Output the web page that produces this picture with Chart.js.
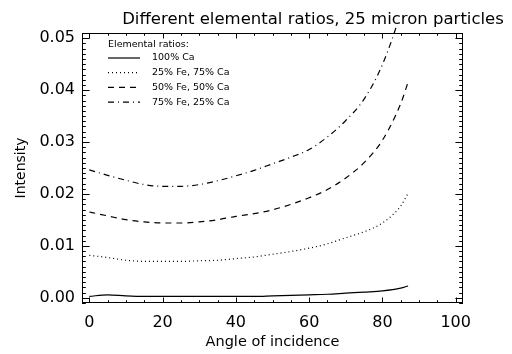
<!DOCTYPE html>
<html>
<head>
<meta charset="utf-8">
<script src="https://cdn.jsdelivr.net/npm/chart.js@4/dist/chart.umd.min.js"></script>
<style>
  html, body { margin: 0; padding: 0; background: #fff; }
  #wrap { width: 512px; height: 354px; }
</style>
</head>
<body>
<div id="wrap"><canvas id="chart" width="512" height="354"></canvas></div>
<script>
const titleText = 'Different elemental ratios, 25 micron particles';
const legendTitle = 'Elemental ratios:';
const seriesNames = ['100% Ca', '25% Fe, 75% Ca', '50% Fe, 50% Ca', '75% Fe, 25% Ca'];

const angles = [0, 5, 10, 15, 20, 25, 30, 35, 40, 45, 50, 55, 60, 65, 70, 75, 80, 85, 87];
const ca100 = [0.00027, 0.00058, 0.00037, 0.00027, 0.00027, 0.00027, 0.00027, 0.00027, 0.00027, 0.00027,
               0.00037, 0.00048, 0.00058, 0.00069, 0.0009, 0.0011, 0.00132, 0.00185, 0.00227];
const fe25 = [0.00818, 0.00776, 0.00723, 0.00702, 0.00702, 0.00702, 0.00713, 0.00723, 0.00755, 0.00787,
              0.00839, 0.00892, 0.00956, 0.0104, 0.01156, 0.01272, 0.01441, 0.01768, 0.02011];
const fe50 = [0.01652, 0.01578, 0.01504, 0.01462, 0.01441, 0.01441, 0.01462, 0.01504, 0.01568, 0.0162,
              0.01694, 0.018, 0.01927, 0.02085, 0.02307, 0.02602, 0.03035, 0.0374, 0.0415];
const fe75 = [0.02465, 0.02359, 0.02264, 0.0218, 0.02148, 0.02148, 0.0218, 0.02254, 0.02349, 0.02454,
              0.02581, 0.02708, 0.02855, 0.03098, 0.03415, 0.03826, 0.04491, 0.05494, 0.06022];

const xTicks = [0, 20, 40, 60, 80, 100];
const yTicks = [0.00, 0.01, 0.02, 0.03, 0.04, 0.05];

const dashes = [[], [1, 3], [6, 5], [6, 4, 1, 4]];
const allSeries = [ca100, fe25, fe50, fe75];

const font = "'DejaVu Sans', sans-serif";

const toPoints = (vals) => vals.map((v, i) => ({ x: angles[i], y: v }));

const datasets = allSeries.map((vals, i) => ({
    label: seriesNames[i],
    data: toPoints(vals),
    borderColor: '#000',
    borderWidth: 1.2,
    borderDash: dashes[i],
    pointRadius: 0,
    fill: false,
    cubicInterpolationMode: 'monotone',
    clip: { left: 0, top: 6, right: 0, bottom: 0 },
}));

// IDL style box with inward ticks, title and in-plot legend
const idlDecor = {
    id: 'idlDecor',
    afterDatasetsDraw(chart) {
        const { ctx, chartArea: a, scales } = chart;
        const xs = scales.x, ys = scales.y;
        ctx.save();
        ctx.strokeStyle = '#000';
        ctx.lineWidth = 1;
        ctx.strokeRect(a.left + 0.5, a.top + 0.5, a.right - a.left - 1, a.bottom - a.top - 1);

        const xMajor = 5.5, xMinor = 2.8, yMajor = 7.6, yMinor = 3.8;
        ctx.beginPath();
        for (let v = 0; v <= 100; v += 5) {
            const px = Math.round(xs.getPixelForValue(v)) + 0.5;
            const len = v % 20 === 0 ? xMajor : xMinor;
            ctx.moveTo(px, a.bottom); ctx.lineTo(px, a.bottom - len);
            ctx.moveTo(px, a.top); ctx.lineTo(px, a.top + len);
        }
        for (let k = -1; k <= 51; k++) {
            const py = Math.round(ys.getPixelForValue(k / 1000)) + 0.5;
            const len = k % 10 === 0 ? yMajor : yMinor;
            ctx.moveTo(a.left, py); ctx.lineTo(a.left + len, py);
            ctx.moveTo(a.right, py); ctx.lineTo(a.right - len, py);
        }
        ctx.stroke();

        // title
        ctx.fillStyle = '#000';
        ctx.font = '16.5px ' + font;
        ctx.textAlign = 'center';
        ctx.textBaseline = 'alphabetic';
        ctx.fillText(titleText, 313, 24);

        // legend
        ctx.font = '9.5px ' + font;
        ctx.textAlign = 'left';
        ctx.textBaseline = 'middle';
        ctx.fillText(legendTitle, 108, 45);
        chart.data.datasets.forEach((ds, i) => {
            const y = 58 + i * 14.7;
            ctx.beginPath();
            ctx.setLineDash(ds.borderDash);
            ctx.lineWidth = 1.2;
            ctx.moveTo(108, y); ctx.lineTo(140, y);
            ctx.stroke();
            ctx.setLineDash([]);
            ctx.fillText(ds.label, 152, y);
        });
        ctx.restore();
    }
};

new Chart(document.getElementById('chart'), {
    type: 'line',
    data: { datasets },
    options: {
        responsive: false,
        animation: false,
        layout: { padding: { left: 13, right: 49, top: 33, bottom: 0 } },
        plugins: { legend: { display: false }, tooltip: { enabled: false } },
        scales: {
            x: {
                type: 'linear',
                min: -2,
                max: 102,
                afterBuildTicks: (s) => { s.ticks = xTicks.map((v) => ({ value: v })); },
                afterFit: (s) => { s.height = 51; },
                grid: { display: false },
                border: { display: false },
                ticks: {
                    color: '#000',
                    font: { family: font, size: 16 },
                    padding: 2,
                    maxRotation: 0,
                    callback: (v) => String(v),
                },
                title: {
                    display: true,
                    text: 'Angle of incidence',
                    color: '#000',
                    font: { family: font, size: 14.5 },
                    padding: { top: 0, bottom: 3 },
                },
            },
            y: {
                type: 'linear',
                min: -0.001,
                max: 0.051,
                afterBuildTicks: (s) => { s.ticks = yTicks.map((v) => ({ value: v })); },
                afterFit: (s) => { s.width = 69; },
                grid: { display: false, drawTicks: false },
                border: { display: false },
                ticks: {
                    color: '#000',
                    font: { family: font, size: 16 },
                    padding: 7,
                    callback: (v) => v.toFixed(2),
                },
                title: {
                    display: true,
                    text: 'Intensity',
                    color: '#000',
                    font: { family: font, size: 14 },
                    padding: { top: 0, bottom: 0 },
                },
            },
        },
    },
    plugins: [idlDecor],
});
</script>
</body>
</html>
